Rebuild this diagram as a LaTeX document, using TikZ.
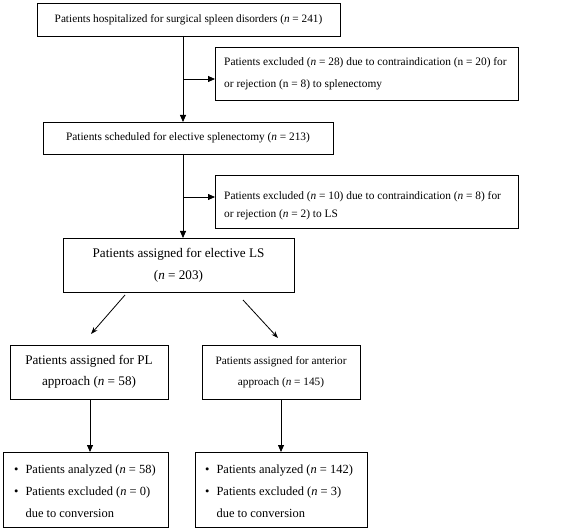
\documentclass[tikz,border=0pt]{standalone}
\usepackage{fontspec}
\setmainfont{Liberation Serif}
\usetikzlibrary{arrows.meta}
\begin{document}
\begin{tikzpicture}[x=1bp,y=-1bp,
  box/.style={draw, line width=0.8bp, inner sep=0pt, outer sep=0pt},
  arr/.style={line width=0.8bp, -{Triangle[length=7bp,width=6bp]}},
  darr/.style={line width=0.8bp, -{Stealth[length=7bp,width=5bp]}}]
\useasboundingbox (0,0) rectangle (569,531);
% boxes
\node[box, minimum width=303bp, minimum height=33bp, font=\fontsize{11.3}{12}\selectfont] (b1) at (188.5,19.5)
  {Patients hospitalized for surgical spleen disorders (\textit{n} = 241)};
\node[box, minimum width=303bp, minimum height=53bp] (b2) at (366.5,73.5) {};
\node[anchor=west, align=left, font=\fontsize{11.4}{21.7}\selectfont, inner sep=0pt] (t2) at (224,74)
  {Patients excluded (\textit{n} = 28) due to contraindication (n = 20) for\\or rejection (n = 8) to splenectomy};
\node[box, minimum width=290bp, minimum height=32bp, font=\fontsize{11.4}{12}\selectfont] (b3) at (188,138)
  {Patients scheduled for elective splenectomy (\textit{n} = 213)};
\node[box, minimum width=303bp, minimum height=53bp] (b4) at (366.5,201.5) {};
\node[anchor=west, align=left, font=\fontsize{11.4}{18}\selectfont, inner sep=0pt] (t4) at (224,206)
  {Patients excluded (\textit{n} = 10) due to contraindication (\textit{n} = 8) for\\or rejection (\textit{n} = 2) to LS};
\node[box, minimum width=231bp, minimum height=54bp, align=center, font=\fontsize{13.2}{22}\selectfont] (b5) at (178.5,265)
  {Patients assigned for elective LS\\(\textit{n} = 203)};
\node[box, minimum width=158bp, minimum height=54bp, align=center, font=\fontsize{13.2}{21}\selectfont] (b6) at (89,372)
  {Patients assigned for PL\\approach (\textit{n} = 58)};
\node[box, minimum width=158bp, minimum height=54bp, align=center, font=\fontsize{11.3}{21}\selectfont] (b7) at (281,372)
  {Patients assigned for anterior\\approach (\textit{n} = 145)};
\node[box, minimum width=165bp, minimum height=75bp] (b8) at (85.5,489.5) {};
\node[anchor=west, inner sep=0pt, font=\fontsize{12.5}{22.5}\selectfont] (t8) at (14,491)
  {\begin{tabular}{@{}l@{\hspace{7bp}}l@{}}\textbullet & Patients analyzed (\textit{n} = 58)\\
   \textbullet & Patients excluded (\textit{n} = 0)\\ & due to conversion\end{tabular}};
\node[box, minimum width=172bp, minimum height=75bp] (b9) at (281,489.5) {};
\node[anchor=west, inner sep=0pt, font=\fontsize{12.5}{22.5}\selectfont] (t9) at (205,491)
  {\begin{tabular}{@{}l@{\hspace{7bp}}l@{}}\textbullet & Patients analyzed (\textit{n} = 142)\\
   \textbullet & Patients excluded (\textit{n} = 3)\\ & due to conversion\end{tabular}};
% connectors
\coordinate (m1) at (183,79);
\coordinate (m2) at (183,197);
\draw[arr] (b1.south -| m1) -- (b3.north -| m1);
\draw[arr] (m1) -- (b2.west |- m1);
\draw[arr] (b3.south -| m2) -- (b5.north -| m2);
\draw[arr] (m2) -- (b4.west |- m2);
\coordinate (d1s) at (125,295);
\coordinate (d1e) at (91,334);
\coordinate (d2s) at (243,300);
\coordinate (d2e) at (278,338);
\draw[darr] (d1s) -- (d1e);
\draw[darr] (d2s) -- (d2e);
\draw[arr] (b6.south -| 90,0) -- (b8.north -| 90,0);
\draw[arr] (b7.south -| 281,0) -- (b9.north -| 281,0);
\end{tikzpicture}
\end{document}
